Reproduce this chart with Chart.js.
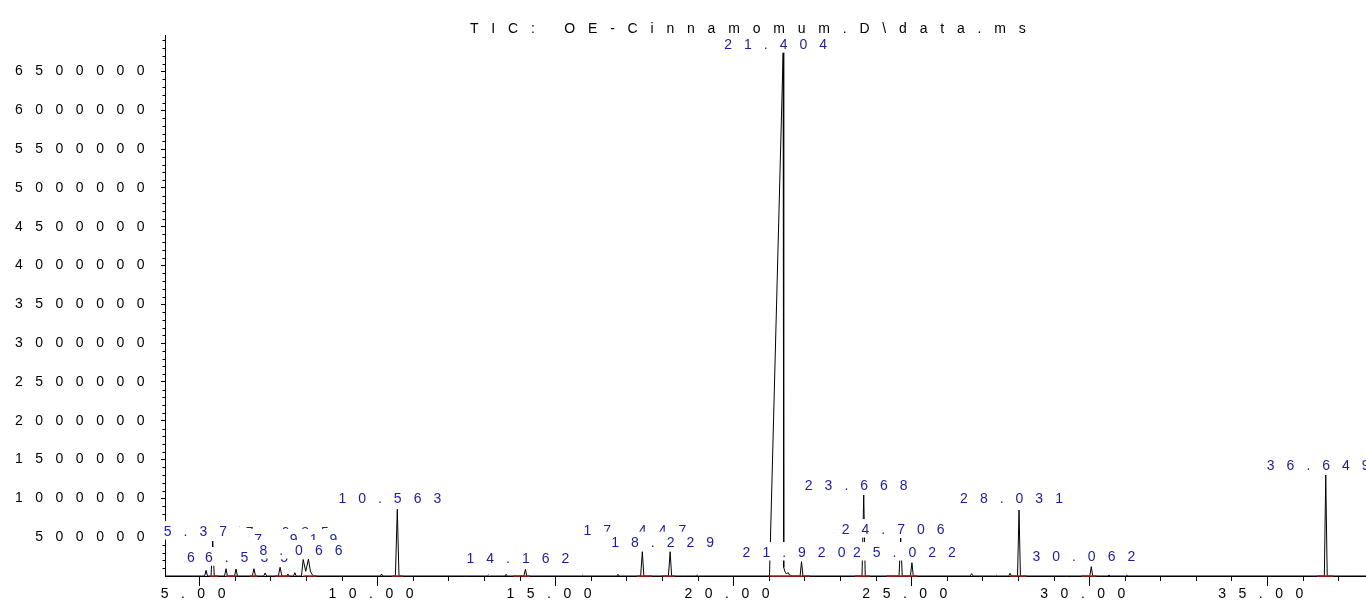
<!DOCTYPE html>
<html><head><meta charset="utf-8">
<script src="https://cdn.jsdelivr.net/npm/chart.js@4"></script>
<style>html,body{margin:0;padding:0;background:#fff;overflow:hidden}canvas{display:block}</style>
</head><body>
<canvas id="c" width="1366" height="604"></canvas>
<script>
const chartTitle = 'TIC: OE-Cinnamomum.D\\data.ms';

// retention time (min) and TIC abundance
const rt = [4.04,
  5.15,5.19,5.23, 5.33,5.377,5.42, 5.71,5.75,5.79, 5.99,6.032,6.07, 6.49,6.535,6.58,
  6.81,6.85,6.89, 7.22,7.27,7.32, 7.46,7.49,7.52, 7.65,7.685,7.72,
  7.87,7.919,7.99,8.066,8.12,8.17,8.22,
  10.09,10.12,10.15, 10.51,10.563,10.61, 13.09,13.12,13.15, 13.59,13.62,13.65,
  14.12,14.162,14.20, 15.74,15.77,15.80, 16.73,16.76,16.79, 17.40,17.447,17.49,
  18.18,18.229,18.27, 18.96,18.99,19.02,
  21.02,21.404,21.42,21.46,21.50,21.54,21.58,21.65, 21.88,21.92,21.96,
  23.62,23.668,23.71, 24.66,24.706,24.75, 24.98,25.022,25.06,
  26.66,26.70,26.74, 27.37,27.40,27.43, 27.74,27.78,27.82, 27.99,28.031,28.07,
  30.02,30.062,30.10, 30.53,30.56,30.59, 31.03,31.06,31.09, 36.61,36.649,36.69,
  37.78];
const tic = [0,
  0,73000,0, 0,450000,0, 0,94000,0, 0,90000,0, 0,94000,0,
  0,39000,0, 0,112000,0, 0,26000,0, 0,42000,0,
  0,212000,60000,219000,64000,18000,0,
  0,26000,0, 0,860000,0, 0,13000,0, 0,22000,0,
  0,86000,0, 0,10000,0, 0,22000,0, 0,313000,0,
  0,313000,0, 0,13000,0,
  0,6749000,110000,50000,25000,45000,15000,0, 0,184000,0,
  0,1043000,0, 0,489000,0, 0,171000,0,
  0,30000,0, 0,10000,0, 0,35000,0, 0,850000,0,
  0,120000,0, 0,13000,0, 0,13000,0, 0,1301000,0,
  0];

// labelled peaks
const peakTimes  = [5.377, 6.032, 6.535, 7.685, 7.919, 8.066, 10.563, 14.162, 17.447, 18.229, 21.404, 21.92, 23.668, 24.706, 25.022, 28.031, 30.062, 36.649];
const peakLabels = ['5.377','6.032','6.535','7.685','7.919','8.066','10.563','14.162','17.447','18.229','21.404','21.920','23.668','24.706','25.022','28.031','30.062','36.649'];

// integration baseline segments (min)
const intStart = [5.30, 5.75, 6.42, 7.13, 7.92, 10.42, 13.82, 17.29, 17.99, 20.98, 23.42, 24.30, 27.78, 29.79, 36.40];
const intEnd   = [5.53, 6.07, 6.63, 7.55, 8.30, 10.73, 14.29, 17.71, 18.37, 22.16, 23.84, 25.17, 28.25, 30.21, 36.86];

// axis ticks
const xTickValues = [5, 10, 15, 20, 25, 30, 35];
const yTickValues = [500000, 1000000, 1500000, 2000000, 2500000, 3000000, 3500000,
                     4000000, 4500000, 5000000, 5500000, 6000000, 6500000];
const xMin = 4.036, xMax = 37.78, xMinor = 1;
const yMin = 0, yMax = 6970000, yMinor = 100000;

// label placement (px above apex), style
const labelLift = [5, 7, 6.7, 36, 15.5, 4, 6, 6, 16.7, 5, 3, 4.7, 5, 4, 5.7, 7, 5.7, 5];
const FONT = "'Liberation Sans', Arial, Helvetica, sans-serif";
const LABEL_COLOR = '#1c1c9e';

const traceData = rt.map((t, i) => ({x: t, y: tic[i]}));
const intData = [];
intStart.forEach((s, i) => { intData.push({x: s, y: 0}, {x: intEnd[i], y: 0}, {x: intEnd[i], y: null}); });

const spacingPlugin = {
  id: 'spacing',
  beforeUpdate(chart) { chart.ctx.letterSpacing = '12.5px'; },
  beforeDraw(chart) { chart.ctx.letterSpacing = '12.5px'; }
};

const overlayPlugin = {
  id: 'overlay',
  afterDraw(chart) {
    const ctx = chart.ctx, xs = chart.scales.x, ys = chart.scales.y;
    ctx.save();
    ctx.letterSpacing = '0px';
    ctx.strokeStyle = '#000'; ctx.lineWidth = 1;
    ctx.beginPath();
    for (let v = Math.ceil(xMin); v <= Math.floor(xMax); v += xMinor) {
      if (xTickValues.includes(v)) continue;
      const px = Math.round(xs.getPixelForValue(v)) + 0.5;
      ctx.moveTo(px, ys.bottom); ctx.lineTo(px, ys.bottom + 5);
    }
    for (let k = 1; k * yMinor < yMax; k++) {
      const v = k * yMinor;
      if (yTickValues.includes(v)) continue;
      const py = Math.round(ys.getPixelForValue(v)) + 0.5;
      ctx.moveTo(xs.left, py); ctx.lineTo(xs.left - 2.5, py);
    }
    ctx.stroke();

    ctx.font = '14px ' + FONT;
    ctx.letterSpacing = '12px';
    ctx.textAlign = 'center';
    ctx.textBaseline = 'alphabetic';
    peakTimes.forEach((t, i) => {
      const idx = rt.indexOf(t);
      const apex = tic[idx];
      const px = xs.getPixelForValue(t) - 1.5;
      const by = ys.getPixelForValue(apex) - labelLift[i];
      const w = ctx.measureText(peakLabels[i]).width;
      const left = px - w / 2;
      ctx.fillStyle = '#fff';
      ctx.fillRect(left - 6, by - 15, w, 18.5);
      ctx.fillStyle = LABEL_COLOR;
      ctx.fillText(peakLabels[i], px, by);
    });

    ctx.letterSpacing = '12.8px';
    ctx.textAlign = 'left';
    ctx.fillStyle = '#000';
    ctx.fillText(chartTitle, 470, 33);
    ctx.restore();
  }
};

Chart.defaults.font.family = FONT;
Chart.defaults.font.size = 14;
Chart.defaults.color = '#000';

new Chart(document.getElementById('c'), {
  type: 'scatter',
  data: {
    datasets: [
      { data: intData, showLine: true, borderColor: '#b41e1e', borderWidth: 1.5, pointRadius: 0, spanGaps: false, clip: false },
      { data: traceData, showLine: true, borderColor: '#000', borderWidth: 1, pointRadius: 0, tension: 0, clip: false }
    ]
  },
  options: {
    responsive: false,
    animation: false,
    devicePixelRatio: 1,
    layout: { padding: { top: 35, left: 0, right: 0, bottom: 0 } },
    plugins: { legend: { display: false }, tooltip: { enabled: false }, title: { display: false } },
    scales: {
      x: {
        type: 'linear', position: 'bottom', min: xMin, max: xMax,
        afterBuildTicks(s) { s.ticks = xTickValues.map(v => ({value: v})); },
        afterFit(s) { s.height = 28; },
        border: { display: true, color: '#000', width: 1 },
        grid: { drawOnChartArea: false, drawTicks: true, tickLength: 10, tickColor: '#000', tickWidth: 1 },
        ticks: { autoSkip: false, maxRotation: 0, padding: 0, font: { size: 14 }, color: '#000',
          callback: (v) => Number(v).toFixed(2) }
      },
      y: {
        type: 'linear', min: yMin, max: yMax,
        afterBuildTicks(s) { s.ticks = yTickValues.map(v => ({value: v})); },
        afterFit(s) { s.width = 165; },
        border: { display: true, color: '#000', width: 1 },
        grid: { drawOnChartArea: false, drawTicks: true, tickLength: 4, tickColor: '#000', tickWidth: 1 },
        ticks: { autoSkip: false, padding: 4, font: { size: 14 }, color: '#000',
          callback: (v) => String(v) }
      }
    }
  },
  plugins: [spacingPlugin, overlayPlugin]
});
</script>
</body></html>
